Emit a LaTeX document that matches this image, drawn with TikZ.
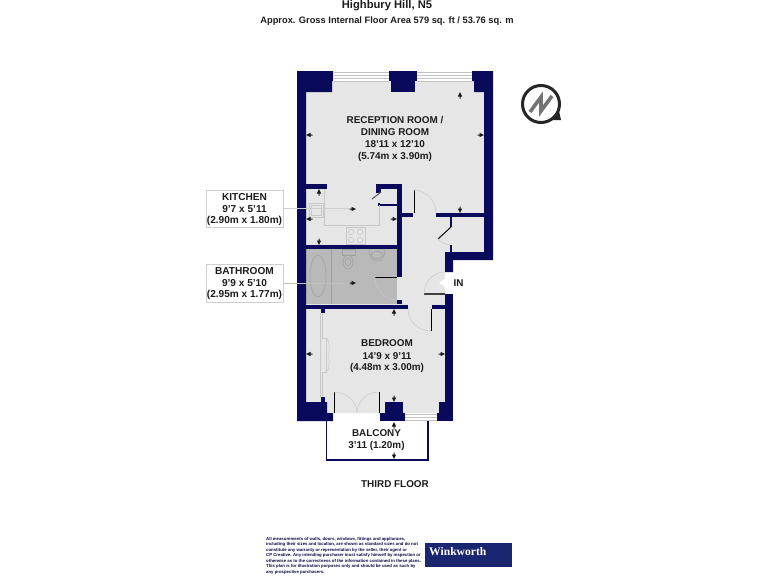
\documentclass[tikz,border=0pt]{standalone}
\usepackage{fontspec}
\setmainfont{Liberation Sans}
\newfontfamily\wkfont{Liberation Serif}
\definecolor{wallc}{HTML}{0A0A5C}
\definecolor{floorc}{HTML}{E6E6E6}
\definecolor{bathc}{HTML}{B9B9B9}
\definecolor{fixc}{HTML}{C8C8C8}
\definecolor{wkc}{HTML}{1A2670}
\definecolor{txtc}{HTML}{1C1C1C}
\tikzset{
  wall/.style={fill=wallc,draw=none},
  thinwall/.style={draw=wallc,line width=1.1pt},
  doorleaf/.style={draw=black,line width=1pt},
  greyleaf/.style={draw=black!65,line width=1pt},
  swing/.style={draw=fixc,line width=.45pt},
  fixture/.style={draw=fixc,line width=.6pt},
  bathfix/.style={draw=black!38,line width=.5pt},
  windowpane/.style={draw=floorc!85!black,line width=.5pt},
  lbl/.style={font=\fontsize{9.9}{11}\selectfont\bfseries,text=txtc,inner sep=0pt,anchor=center},
  boxlbl/.style={lbl,font=\fontsize{10.1}{11}\selectfont\bfseries},
  labelbox/.style={draw=floorc!90!black,line width=.6pt,fill=white},
  dimarrow/.pic={\fill[black!90] (0,0) -- (-2.2,4.5) -- (-.5,4.5) -- (-.5,6.5) -- (.5,6.5) -- (.5,4.5) -- (2.2,4.5) -- cycle;}
}
\begin{document}
\begin{tikzpicture}[x=1pt,y=-1pt]
\useasboundingbox (0,0) rectangle (768,576);
% floors
\fill[floorc] (306,92) -- (332,92) -- (332,81) -- (391,81) -- (391,92) -- (415,92) -- (415,81) -- (474,81) -- (474,92) -- (484,92) -- (484,252) -- (445,252) -- (445,402) -- (445,413) -- (306,413) -- cycle;
\fill[bathc] (306,249) rectangle (397,304);
% windows
\foreach \a/\b in {334/389,417/472}{
  \draw[windowpane] (\a,72) -- (\b,72) (\a,75) -- (\b,75) (\a,78) -- (\b,78) (\a,81) -- (\b,81);
}
\draw[windowpane] (405,414) -- (437,414) (405,417) -- (437,417) (405,420) -- (437,420);
% outer walls
\fill[wall] (297,71) -- (333,71) -- (333,81) -- (332,81) -- (332,92) -- (306,92) -- (306,402) -- (327,402) -- (327,413) -- (333,413) -- (333,421) -- (297,421) -- cycle;
\fill[wall] (389,71) rectangle (417,81);
\fill[wall] (391,81) rectangle (415,92);
\fill[wall] (472,71) -- (493,71) -- (493,260) -- (453,260) -- (453,272) -- (445,272) -- (445,252) -- (484,252) -- (484,92) -- (474,92) -- (474,81) -- (472,81) -- cycle;
\fill[wall] (445,294) rectangle (453,421);
\fill[wall] (437,413) rectangle (453,421);
\fill[wall] (439,402) rectangle (445,413);
\fill[wall] (321,397) rectangle (325,402);
\fill[wall] (385,402) rectangle (403,413);
\fill[wall] (380,413) rectangle (405,421);
% inner walls
\fill[wall] (306,184) rectangle (327,189);
\fill[wall] (376,184) rectangle (402,189);
\fill[wall] (376,189) rectangle (381,193);
\fill[wall] (397,189) rectangle (402,277);
\fill[wall] (402,213) rectangle (413,217);
\fill[wall] (436,213) rectangle (484,217);
\fill[wall] (306,245) rectangle (397,249);
\fill[wall] (397,300) rectangle (402,304);
\fill[wall] (306,304.5) rectangle (408,309);
\fill[wall] (432,304.5) rectangle (445,309);
\fill[wall] (321,309) rectangle (325,313);
\draw[thinwall] (379,203) -- (379,205) -- (397,205);
\draw[thinwall] (451,217) -- (451,227);
\draw[thinwall] (451,245) -- (451,252);
% balcony
\draw[draw=wallc,line width=1.6pt] (326.5,421) -- (326.5,460) -- (428,460) -- (428,421);
% doors
\draw[doorleaf] (414,190) -- (414,213);
\draw[swing] (414,190) .. controls (426,190) and (436,201) .. (436,213);
\draw[greyleaf] (372,199) -- (381,192);
\draw[doorleaf] (438,239) -- (451,227);
\draw[swing] (438,239) .. controls (441,243) and (446,245) .. (451,245);
\draw[doorleaf] (375,277) -- (397,277);
\draw[swing] (375,277) .. controls (375,289) and (385,300) .. (397,300);
\draw[draw=black!75,line width=1.3pt] (424,294) -- (445,294);
\draw[swing] (424,294) .. controls (424,282) and (433,272) .. (445,272);
\draw[doorleaf] (431,309) -- (431,331);
\draw[swing] (408,309) .. controls (408,321) and (418,331) .. (431,331);
\draw[doorleaf] (334,392) -- (334,413);
\draw[doorleaf] (379,392) -- (379,413);
\draw[swing] (334,392) .. controls (346,392) and (357,401) .. (357,413);
\draw[swing] (379,392) .. controls (367,392) and (357,401) .. (357,413);
% entrance arrow
\fill[white] (439,283) -- (446,278) -- (446,280) -- (453,280) -- (453,286) -- (446,286) -- (446,288) -- cycle;
% kitchen fittings
\draw[fixture] (324,189) -- (324,225) -- (379,225) -- (379,205);
\draw[fixture] (309,203) rectangle (323,217);
\draw[fixture] (311,205) rectangle (321,215);
\draw[fixture] (346,227) rectangle (365,244);
\foreach \p/\q in {351/232,360/232,351/240,360/240}{\draw[fixture] (\p,\q) circle (2.7);}
% bathroom fittings
\draw[bathfix] (331,249) -- (331,304);
\draw[bathfix] (318,276) ellipse (8 and 21);
\draw[bathfix] (342,249) rectangle (355,255);
\draw[bathfix] (348,262) ellipse (5 and 7);
\draw[bathfix] (348,262) ellipse (3 and 4);
\draw[bathfix] (369,249) .. controls (369,258) and (373,261) .. (377,261) .. controls (381,261) and (385,258) .. (385,249);
\draw[bathfix] (377,255) ellipse (6 and 3.5);
% wardrobe
\draw[fixture] (320.5,313) -- (320.5,397);
\draw[fixture] (322.5,313) -- (322.5,338) -- (326,338) -- (326,372) -- (322.5,372) -- (322.5,397);
\draw[swing] (326,338) .. controls (330,340) and (330,350) .. (328,355) .. controls (330,360) and (330,370) .. (326,372);
% leaders
\draw[draw=floorc!90!black,line width=.4pt] (283,208) -- (350,208);
\draw[draw=black!25,line width=.4pt] (283,283) -- (350,283);
% dimension arrows
\pic at (460,92) {dimarrow};
\pic[rotate=90] at (306,135) {dimarrow};
\pic[rotate=-90] at (484,135) {dimarrow};
\pic[rotate=180] at (460,213) {dimarrow};
\pic at (319,189) {dimarrow};
\pic[rotate=180] at (319,245) {dimarrow};
\pic[rotate=90] at (306,219) {dimarrow};
\pic[rotate=-90] at (397,219) {dimarrow};
\pic[rotate=-90] at (356,209) {dimarrow};
\pic[rotate=-90] at (356,283) {dimarrow};
\pic at (394,309) {dimarrow};
\pic[rotate=180] at (394,402) {dimarrow};
\pic[rotate=90] at (306,354) {dimarrow};
\pic[rotate=-90] at (445,354) {dimarrow};
\pic at (394,422) {dimarrow};
\pic[rotate=180] at (394,459) {dimarrow};
% title
\node[lbl,font=\fontsize{11.2}{13}\selectfont\bfseries] (title) at (387,5.5) {Highbury Hill, N5};
\node[lbl,font=\fontsize{9.3}{11}\selectfont\bfseries] (subtitle) at (387,21) {Approx. Gross Internal Floor Area 579 sq. ft / 53.76 sq. m};
% room labels
\node[lbl] (r1) at (395,120) {RECEPTION ROOM /};
\node[lbl] (r2) at (395,132) {DINING ROOM};
\node[lbl] (r3) at (395,144) {18'11 x 12'10};
\node[lbl] (r4) at (395,157) {(5.74m x 3.90m)};
\draw[labelbox] (206,190) rectangle (283,227);
\draw[labelbox] (206,264) rectangle (283,302);
\node[boxlbl] (k1) at (244.5,197) {KITCHEN};
\node[boxlbl] (k2) at (244.5,209) {9'7 x 5'11};
\node[boxlbl] (k3) at (244.5,221) {(2.90m x 1.80m)};
\node[boxlbl] (b1) at (244.5,271) {BATHROOM};
\node[boxlbl] (b2) at (244.5,283) {9'9 x 5'10};
\node[boxlbl] (b3) at (244.5,295) {(2.95m x 1.77m)};
\node[lbl] (s1) at (387,343) {BEDROOM};
\node[lbl] (s2) at (387,356) {14'9 x 9'11};
\node[lbl] (s3) at (387,368) {(4.48m x 3.00m)};
\node[lbl] (c1) at (376.5,433) {BALCONY};
\node[lbl] (c2) at (376.5,446) {3'11 (1.20m)};
\node[lbl,anchor=west] (in) at (453.5,283) {IN};
\node[lbl] (fl) at (395,484) {THIRD FLOOR};
% compass
\draw[draw=black!85,line width=3pt] (541,104) circle (18.5);
\fill[black!85] (561,120) -- (553,120) -- (559,111) -- cycle;
\draw[draw=black!55,line width=3.6pt,line join=miter] (530,112) -- (541,97) -- (541,111) -- (552,96);
% disclaimer
\begin{scope}[every node/.style={font=\fontsize{4.3}{5.5}\selectfont\bfseries,text=wallc!70!black,anchor=west,inner sep=0pt}]
\node (d1) at (266,539) {All measurements of walls, doors, windows, fittings and appliances,};
\node (d2) at (266,544.5) {including their sizes and location, are shown as standard sizes and do not};
\node (d3) at (266,550) {constitute any warranty or representation by the seller, their agent or};
\node (d4) at (266,555.5) {CP Creative. Any intending purchaser must satisfy himself by inspection or};
\node (d5) at (266,561) {otherwise as to the correctness of the information contained in these plans.};
\node (d6) at (266,566.5) {This plan is for illustration purposes only and should be used as such by};
\node (d7) at (266,572) {any prospective purchasers.};
\end{scope}
% logo
\fill[wkc] (425,543) rectangle (512,567);
\node[font=\fontsize{11.6}{14}\selectfont\wkfont\bfseries,text=white,inner sep=0pt,anchor=west] (logo) at (429,552) {Winkworth};
\end{tikzpicture}
\end{document}
